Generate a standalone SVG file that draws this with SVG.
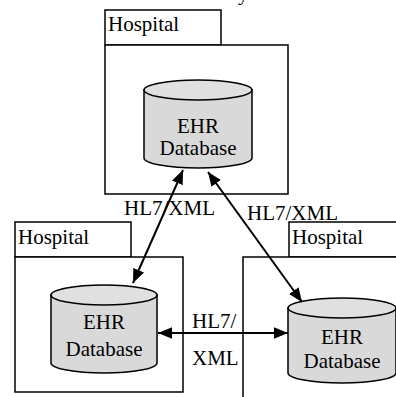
<svg xmlns="http://www.w3.org/2000/svg" width="396" height="397" viewBox="0 0 396 397">
<style>
.box{fill:#fff;stroke:#000;stroke-width:1.5}
.cyl{fill:#d9d9d9;stroke:#000;stroke-width:1.5}
.top{fill:#e0e0e0;stroke:#000;stroke-width:1.5}
svg text.s{font-family:'Liberation Serif',serif !important;font-size:21px;fill:#000}
.c{text-anchor:middle}
.conn{stroke:#000;stroke-width:2;fill:none;marker-end:url(#ah);marker-start:url(#ah)}
</style>
<defs>
<marker id="ah" viewBox="0 0 12 10" refX="12" refY="5" markerWidth="14" markerHeight="12" markerUnits="userSpaceOnUse" orient="auto-start-reverse">
<path d="M0,0 L12,5 L0,10 z" fill="#000"/>
</marker>
</defs>
<rect width="396" height="397" fill="#fff"/>
<text class="s" font-family="Liberation Serif" x="238" y="0">y</text>
<g id="hospital-top">
<rect class="box" x="105" y="10" width="116" height="35"/>
<rect class="box" x="105" y="45" width="183" height="149"/>
<text class="s" font-family="Liberation Serif" x="108" y="31">Hospital</text>
</g>
<g id="db-top">
<path class="cyl" d="M144,90 V158 A54,10 0 0 0 252,158 V90 Z"/>
<ellipse class="top" cx="198" cy="90" rx="54" ry="10"/>
<text class="s c" font-family="Liberation Serif" x="198" y="133">EHR</text>
<text class="s c" font-family="Liberation Serif" x="198" y="155">Database</text>
</g>
<g id="hospital-left">
<rect class="box" x="15" y="222" width="116" height="35"/>
<rect class="box" x="15" y="257" width="168" height="135"/>
<text class="s" font-family="Liberation Serif" x="18" y="244">Hospital</text>
</g>
<g id="db-left">
<path class="cyl" d="M51,295 V363 A53,10 0 0 0 157,363 V295 Z"/>
<ellipse class="top" cx="104" cy="295" rx="53" ry="10"/>
<text class="s c" font-family="Liberation Serif" x="104" y="329">EHR</text>
<text class="s c" font-family="Liberation Serif" x="104" y="356">Database</text>
</g>
<g id="hospital-right">
<rect class="box" x="289" y="222" width="120" height="35"/>
<rect class="box" x="243" y="257" width="170" height="150"/>
<text class="s" font-family="Liberation Serif" x="292" y="244">Hospital</text>
</g>
<g id="db-right">
<path class="cyl" d="M288,308 V373 A54,10 0 0 0 396,373 V308 Z"/>
<ellipse class="top" cx="342" cy="308" rx="54" ry="10"/>
<text class="s c" font-family="Liberation Serif" x="342" y="344">EHR</text>
<text class="s c" font-family="Liberation Serif" x="342" y="368">Database</text>
</g>
<g id="connectors">
<line class="conn" x1="183" y1="170" x2="133" y2="283"/>
<line class="conn" x1="208" y1="172" x2="302" y2="302"/>
<line class="conn" x1="158" y1="333" x2="288" y2="333"/>
<text class="s" font-family="Liberation Serif" x="124" y="215">HL7/XML</text>
<text class="s" font-family="Liberation Serif" x="247" y="220">HL7/XML</text>
<text class="s" font-family="Liberation Serif" x="192" y="328">HL7/</text>
<text class="s" font-family="Liberation Serif" x="192" y="365">XML</text>
</g>
</svg>
